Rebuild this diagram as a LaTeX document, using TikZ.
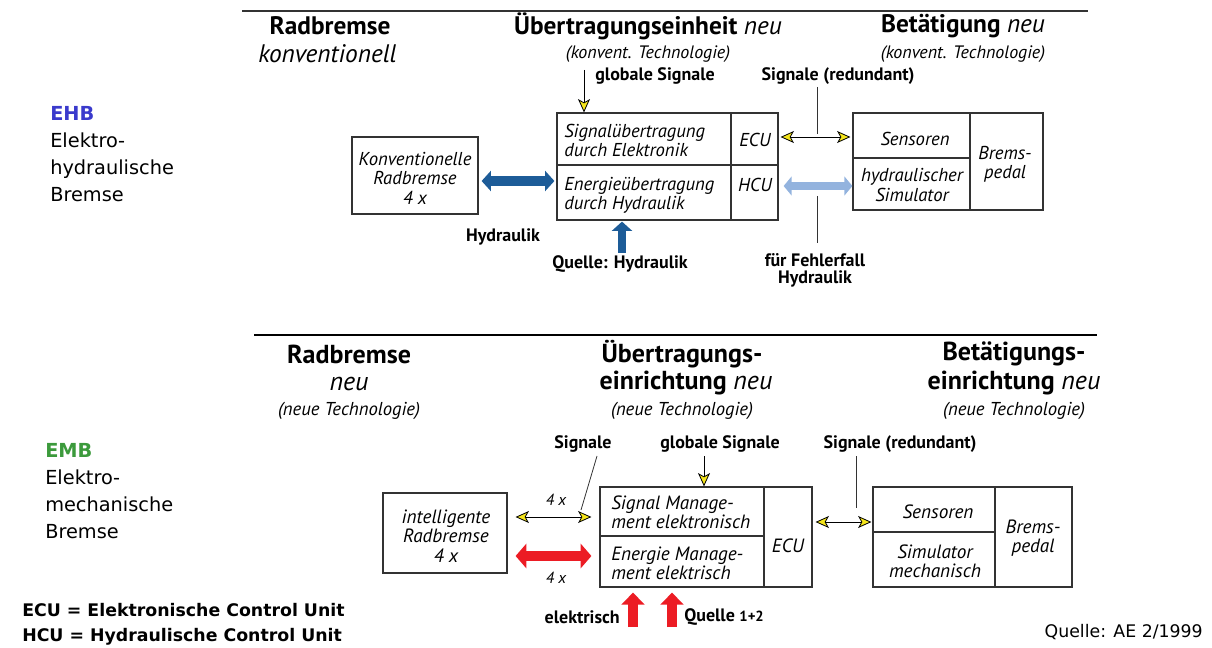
\documentclass[tikz,border=0pt]{standalone}
\usepackage{fontspec}
\setmainfont{PT Sans}
\newfontfamily\verd{DejaVu Sans}
\usetikzlibrary{arrows.meta,calc}
\definecolor{ehbblue}{HTML}{3A3ACC}
\definecolor{embgreen}{HTML}{3C9A3C}
\definecolor{hblue}{HTML}{1D5C98}
\definecolor{lblue}{HTML}{93B3DE}
\definecolor{ered}{HTML}{EC1C24}
\definecolor{sigyellow}{HTML}{F5E51B}
\begin{document}
\begin{tikzpicture}[x=0.75pt,y=-0.75pt,
  head/.style={font=\fontsize{19}{22}\selectfont\bfseries, inner sep=0pt},
  headB/.style={font=\fontsize{19.5}{22}\selectfont\bfseries, inner sep=0pt},
  headit/.style={font=\fontsize{19}{22}\selectfont\itshape, inner sep=0pt},
  headitB/.style={font=\fontsize{19.5}{22}\selectfont\itshape, inner sep=0pt},
  sub/.style={font=\fontsize{13.5}{16}\selectfont\itshape, inner sep=0pt},
  subB/.style={font=\fontsize{14}{16}\selectfont\itshape, inner sep=0pt},
  lbl/.style={font=\fontsize{13.5}{13}\selectfont\bfseries, inner sep=0pt, align=center},
  cell/.style={draw=black!80, line width=0.9pt, inner sep=0pt},
  ctext/.style={font=\fontsize{14}{14.4}\selectfont\itshape, inner sep=0pt},
  ctextB/.style={font=\fontsize{14.4}{14.4}\selectfont\itshape, inner sep=0pt},
  side/.style={font=\verd\fontsize{14.5}{20.25}\selectfont, inner sep=0pt, anchor=north west, align=left},
  sigarrow/.style={line width=0.6pt, -{Stealth[length=10pt,width=9pt,inset=2.5pt,fill=sigyellow]}},
  sigdouble/.style={line width=0.6pt, {Stealth[length=10pt,width=9pt,inset=2.5pt,fill=sigyellow]}-{Stealth[length=10pt,width=9pt,inset=2.5pt,fill=sigyellow]}},
  thin/.style={line width=0.6pt, draw=black!80}
]
\useasboundingbox (0,0) rectangle (1212,648);

% ---------- separators ----------
\coordinate (tl1) at (242,11);
\coordinate (tl2) at (1088,11);
\draw[line width=0.8pt, black!80] (tl1) -- (tl2);
\coordinate (ml1) at (254,335);
\coordinate (ml2) at (1097,335);
\draw[line width=1.6pt] (ml1) -- (ml2);

% ---------- top headings ----------
\node[head] (h1) at (330,26) {Radbremse};
\node[headit, anchor=west] (h1b) at (258,54) {konventionell};
\node[head] (h2) at (648,26) {Übertragungseinheit \textmd{\itshape neu}};
\node[sub] (h2b) at (648,54) {(konvent. Technologie)};
\node[head] (h3) at (963,26) {Betätigung \textmd{\itshape neu}};
\node[sub] (h3b) at (963,54) {(konvent. Technologie)};
\node[lbl] (gs1) at (655,76) {globale Signale};
\node[lbl] (sr1) at (838,76) {Signale (redundant)};

% ---------- top side label ----------
\node[side] (ehb) at (50,106) {\textcolor{ehbblue}{\bfseries EHB}\\Elektro-\\hydraulische\\Bremse};

% ---------- top boxes ----------
\node[cell, minimum width=94.5pt, minimum height=57.75pt] (kr) at (415,175.5) {};
\node[ctext, align=center, font=\fontsize{14}{14.6}\selectfont\itshape] (krt) at (415,178) {Konventionelle\\Radbremse\\4 x};

\node[cell, minimum width=130.5pt, minimum height=39pt] (sig) at (644,139) {};
\node[cell, minimum width=130.5pt, minimum height=41.25pt] (en) at (644,192.5) {};
\node[cell, minimum width=35.25pt, minimum height=39pt] (ecu) at (754.5,139) {};
\node[cell, minimum width=35.25pt, minimum height=41.25pt] (hcu) at (754.5,192.5) {};
\node[ctext, align=left, anchor=west] (sigt) at (564,140.5) {Signalübertragung\\durch Elektronik};
\node[ctext, align=left, anchor=west] (ent) at (564,195.5) {Energieübertragung\\durch Hydraulik};
\node[ctext] (ecut) at (755,140) {ECU};
\node[ctext] (hcut) at (755,185) {HCU};

\node[cell, minimum width=87.75pt, minimum height=33.75pt] (sens) at (911.5,135.5) {};
\node[cell, minimum width=87.75pt, minimum height=39pt] (sim) at (911.5,184) {};
\node[cell, minimum width=54.75pt, minimum height=72.75pt] (pedal) at (1006.5,161.5) {};
\node[ctext] (senst) at (915,139) {Sensoren};
\node[ctext, align=center] (simt) at (912,185) {hydraulischer\\Simulator};
\node[ctext, align=center] (pedalt) at (1005,164) {Brems-\\pedal};

% ---------- top connectors ----------
\coordinate (g1) at (584,70);
\draw[sigarrow] (g1) -- (g1 |- sig.north);
\draw[line width=7pt, hblue, {Triangle[length=7pt,width=15pt]}-{Triangle[length=7pt,width=15pt]}]
  ($(kr.east)+(3,5.5)$) -- ($(en.west)+(-2,-11.5)$);
\node[lbl] (hyd) at (503,237) {Hydraulik};
\coordinate (q1) at (622,253);
\draw[line width=6.5pt, hblue, -{Triangle[length=7pt,width=15pt]}] (q1) -- ($(q1 |- en.south)+(0,1)$);
\node[lbl] (qh) at (620,264) {Quelle: Hydraulik};

\draw[sigdouble] ($(ecu.east)+(2,-2)$) -- ($(sens.west)+(-2,1.5)$);
\coordinate (r1) at (817,87);
\coordinate (r2) at (817,134);
\draw[thin] (r1) -- (r2);
\draw[line width=6pt, lblue, {Triangle[length=6pt,width=14pt]}-{Triangle[length=6pt,width=14pt]}]
  ($(hcu.east)+(5,-6.5)$) -- ($(sim.west)+(0,2)$);
\coordinate (f1) at (817,196);
\coordinate (f2) at (817,243);
\draw[thin] (f1) -- (f2);
\node[lbl] (ff) at (815,270.5) {für Fehlerfall\\Hydraulik};

% ---------- bottom headings ----------
\node[headB] (b1) at (349,354) {Radbremse};
\node[headitB] (b1b) at (349,384) {neu};
\node[subB] (b1c) at (349,411) {(neue Technologie)};
\node[headB] (b2) at (682,354) {Übertragungs-};
\node[headB] (b2b) at (686,383) {einrichtung \textmd{\itshape neu}};
\node[subB] (b2c) at (682,411) {(neue Technologie)};
\node[headB] (b3) at (1014,354) {Betätigungs-};
\node[headB] (b3b) at (1014,383) {einrichtung \textmd{\itshape neu}};
\node[subB] (b3c) at (1014,411) {(neue Technologie)};
\node[lbl] (sg2) at (583,444) {Signale};
\node[lbl] (gs2) at (720,444) {globale Signale};
\node[lbl] (sr2) at (900,444) {Signale (redundant)};

% ---------- bottom side label ----------
\node[side] (emb) at (45,443) {\textcolor{embgreen}{\bfseries EMB}\\Elektro-\\mechanische\\Bremse};

% ---------- bottom boxes ----------
\node[cell, minimum width=93pt, minimum height=60pt] (ir) at (445,533) {};
\node[ctextB, align=center, font=\fontsize{14.4}{14.8}\selectfont\itshape] (irt) at (446,536) {intelligente\\Radbremse\\4 x};

\node[cell, minimum width=123pt, minimum height=36.75pt] (sm) at (682,511.5) {};
\node[cell, minimum width=123pt, minimum height=38.25pt] (em) at (682,561.5) {};
\node[cell, minimum width=36pt, minimum height=75pt] (ecu2) at (788,537) {};
\node[ctextB, align=left, anchor=west] (smt) at (611,512) {Signal Manage-\\ment elektronisch};
\node[ctextB, align=left, anchor=west] (emt) at (611,563) {Energie Manage-\\ment elektrisch};
\node[ctextB] (ecu2t) at (788,546) {ECU};

\node[cell, minimum width=91.5pt, minimum height=33.75pt] (sens2) at (934,509.5) {};
\node[cell, minimum width=91.5pt, minimum height=41.25pt] (sim2) at (934,559.5) {};
\node[cell, minimum width=57.75pt, minimum height=75pt] (pedal2) at (1033.5,537) {};
\node[ctextB] (sens2t) at (938,512) {Sensoren};
\node[ctextB, align=center] (sim2t) at (935,561) {Simulator\\mechanisch};
\node[ctextB, align=center] (pedal2t) at (1033,538) {Brems-\\pedal};

% ---------- bottom connectors ----------
\draw[sigdouble] ($(ir.east)+(8,-16)$) -- ($(sm.west)+(-8,5.5)$);
\node[sub, font=\fontsize{12}{14}\selectfont\itshape] (fx1) at (556,500) {4 x};
\coordinate (s1) at (597,456);
\coordinate (s2) at (581,510);
\draw[thin] (s1) -- (s2);
\draw[line width=8pt, ered, {Triangle[length=8pt,width=18pt]}-{Triangle[length=8pt,width=18pt]}]
  ($(ir.east)+(8,23)$) -- ($(em.west)+(-8,-5.5)$);
\node[sub, font=\fontsize{12}{14}\selectfont\itshape] (fx2) at (556,578) {4 x};
\coordinate (g2) at (704,456);
\draw[sigarrow] (g2) -- (g2 |- sm.north);

\draw[sigdouble] ($(ecu2.east)+(3,-15)$) -- ($(sens2.west)+(-1,12.5)$);
\coordinate (r3) at (856,456);
\coordinate (r4) at (856,508);
\draw[thin] (r3) -- (r4);

\coordinate (e1) at (633,627);
\coordinate (e2) at (672,627);
\draw[line width=8pt, ered, -{Triangle[length=9pt,width=17pt]}] (e1) -- ($(e1 |- em.south)+(0,5)$);
\draw[line width=8pt, ered, -{Triangle[length=9pt,width=17pt]}] (e2) -- ($(e2 |- em.south)+(0,5)$);
\node[lbl, anchor=east] (el) at (620,617) {elektrisch};
\node[lbl, anchor=west] (q12) at (684,617) {Quelle {\fontsize{11}{11}\selectfont 1+2}};

% ---------- footnotes ----------
\node[font=\verd\fontsize{13}{18.75}\selectfont\bfseries, inner sep=0pt, anchor=north west, align=left] (abbr) at (22,603)
  {ECU = Elektronische Control Unit\\HCU = Hydraulische Control Unit};
\node[font=\verd\fontsize{13}{15}\selectfont, inner sep=0pt, anchor=east] (src) at (1203,632) {Quelle: AE 2/1999};
\end{tikzpicture}
\end{document}
